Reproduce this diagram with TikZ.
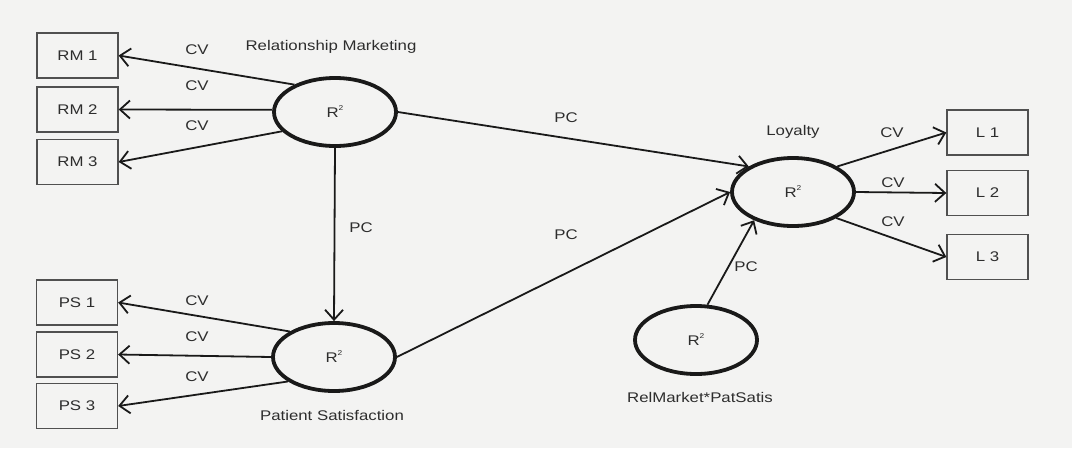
\documentclass[tikz,border=0pt]{standalone}
\usepackage{fontspec}
\setmainfont{Liberation Sans}[FakeStretch=1.2]
\usetikzlibrary{arrows.meta,shapes.geometric}
\definecolor{ink}{RGB}{25,25,25}
\definecolor{txt}{RGB}{45,45,45}
\definecolor{boxline}{RGB}{80,80,80}
\definecolor{paper}{RGB}{243,243,242}
\newcommand{\rsq}{R\raisebox{7pt}{\fontsize{7}{7}\selectfont 2}}
\begin{document}
\begin{tikzpicture}[x=1pt,y=-1pt,
  every node/.style={font=\fontsize{14}{16}\selectfont, text=txt},
  indicator/.style={draw=boxline, line width=1.3pt, rectangle, minimum width=81pt, minimum height=45pt, inner sep=0pt},
  construct/.style={draw=ink, line width=3.8pt, ellipse, minimum width=122pt, minimum height=68pt, inner sep=0pt},
  link/.style={draw=ink, line width=1.8pt, -{Straight Barb[length=10pt,width=18pt]}},
  tag/.style={inner sep=1pt}]
  % canvas
  \fill[paper] (0,0) rectangle (1072,448);
  \useasboundingbox (0,0) rectangle (1072,448);

  % latent constructs
  \node[construct] (rm)  at (335,112) {\rsq};
  \node[construct] (ps)  at (334,357) {\rsq};
  \node[construct] (loy) at (793,192) {\rsq};
  \node[construct] (int) at (696,340) {\rsq};

  % construct names
  \node[tag] (rmname)  at (331,47)  {Relationship Marketing};
  \node[tag] (psname)  at (332,415) {Patient Satisfaction};
  \node[tag] (loyname) at (793,132) {Loyalty};
  \node[tag] (intname) at (700,397) {RelMarket*PatSatis};

  % indicators
  \node[indicator] (rm1) at (77.5,55.5)  {RM 1};
  \node[indicator] (rm2) at (77.5,109.5) {RM 2};
  \node[indicator] (rm3) at (77.5,162)   {RM 3};
  \node[indicator] (ps1) at (77,302.5)   {PS 1};
  \node[indicator] (ps2) at (77,354.5)   {PS 2};
  \node[indicator] (ps3) at (77,406)     {PS 3};
  \node[indicator] (l1)  at (987.5,132.5) {L 1};
  \node[indicator] (l2)  at (987.5,193)   {L 2};
  \node[indicator] (l3)  at (987.5,257)   {L 3};

  % measurement paths
  \draw[link] (rm.146) -- (rm1.east);
  \draw[link] (rm.178) -- (rm2.east);
  \draw[link] (rm.200) -- (rm3.east);
  \draw[link] (ps.150) -- (ps1.east);
  \draw[link] (ps.west) -- (ps2.east);
  \draw[link] (ps.208) -- (ps3.east);
  \draw[link] (loy.30)  -- (l1.west);
  \draw[link] (loy.east) -- (l2.west);
  \draw[link] (loy.329) -- (l3.west);

  % structural paths
  \draw[link] (rm.east)  -- (loy.150);
  \draw[link] (rm.south) -- (ps.north);
  \draw[link] (ps.east)  -- (loy.west);
  \draw[link] (int.72)   -- (loy.216);

  % path labels
  \node[tag] (cvr1) at (197,50)  {CV};
  \node[tag] (cvr2) at (197,86)  {CV};
  \node[tag] (cvr3) at (197,126) {CV};
  \node[tag] (cvp1) at (197,301) {CV};
  \node[tag] (cvp2) at (197,337) {CV};
  \node[tag] (cvp3) at (197,377) {CV};
  \node[tag] (cvl1) at (892,133) {CV};
  \node[tag] (cvl2) at (893,183) {CV};
  \node[tag] (cvl3) at (893,222) {CV};
  \node[tag] (pc1) at (566,118) {PC};
  \node[tag] (pc2) at (361,228) {PC};
  \node[tag] (pc3) at (566,235) {PC};
  \node[tag] (pc4) at (746,267) {PC};
\end{tikzpicture}
\end{document}
